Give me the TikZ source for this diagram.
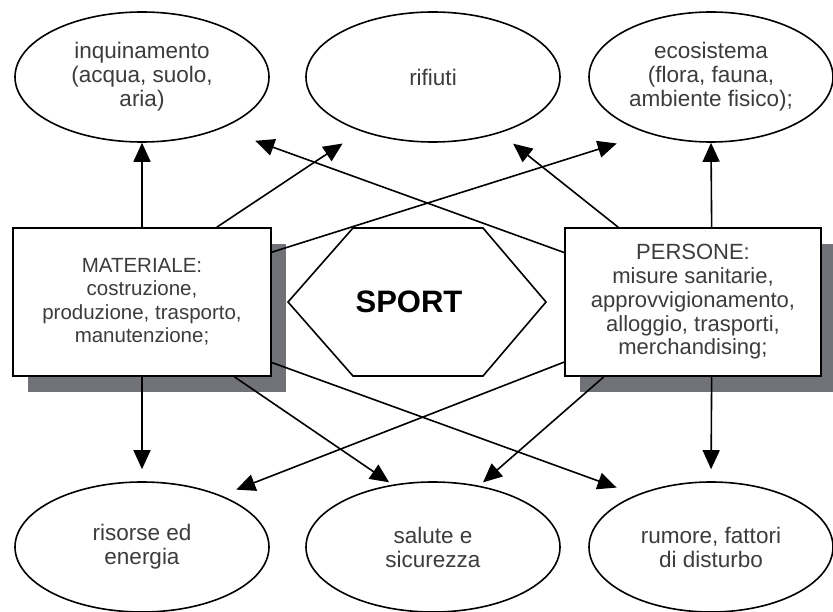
\documentclass[tikz,border=0pt]{standalone}
\usepackage{fontspec}
\setmainfont{Liberation Sans}
\usetikzlibrary{arrows.meta,calc,shadows,shapes.geometric}
\definecolor{shadegray}{RGB}{112,114,120}
\definecolor{txtgray}{RGB}{60,60,60}

\begin{document}
\begin{tikzpicture}[x=1pt,y=-1pt,line width=1.6pt,
  oval/.style={ellipse,draw,inner sep=0pt,minimum height=130pt,align=center,
    text=txtgray,font=\fontsize{22.5}{24}\selectfont},
  box/.style={rectangle,draw,fill=white,inner sep=0pt,minimum height=148pt,align=center,
    text=txtgray,drop shadow={shadow xshift=15pt,shadow yshift=-16pt,fill=shadegray,opacity=1}},
  arr/.style={-{Triangle[length=19pt,width=17pt]}}]
  \fill[white] (0,0) rectangle (833,612);
  \useasboundingbox (0,0) rectangle (833,612);
  \foreach \n/\x/\y/\w/\t in {inq/142/77/254/{inquinamento\\(acqua, suolo,\\aria)},
      rif/433/77/254/{rifiuti}, eco/711/77/244/{ecosistema\\(flora, fauna,\\ambiente fisico);},
      ris/142/547/254/{risorse ed\\energia}, sal/433/547/254/{salute e\\sicurezza},
      rum/711/547/244/{rumore, fattori\\di disturbo}}
    \node[oval,minimum width=\w pt] (\n) at (\x,\y) {\t};
  \node[box,minimum width=258pt,font=\fontsize{20.5}{23.5}\selectfont] (mat) at (142,302)
    {MATERIALE:\\costruzione,\\produzione, trasporto,\\manutenzione;};
  \node[box,minimum width=256pt,font=\fontsize{22}{23.7}\selectfont] (per) at (693,302)
    {PERSONE:\\misure sanitarie,\\approvvigionamento,\\alloggio, trasporti,\\merchandising;};
  \node[font=\bfseries\fontsize{31}{36}\selectfont] (sport) at (409,302) {SPORT};
  \draw ($(sport)+(-121,0)$) -- ++(65,-74) -- ++(130,0) -- ++(63,74) -- ++(-63,74) -- ++(-130,0) -- cycle;
  \foreach \a/\b/\s in {mat.north/inq.south/0, mat.45/rif.217/22, mat.21/eco.222/33,
      per.159/inq.327/36, per.135/rif.320/17, per.76/eco.south/0,
      mat.south/ris.north/12, per.205/ris.33/16, mat.321/sal.123/4,
      mat.335/rum.145/21, per.220/sal.53/5, per.284/rum.north/12}
    \draw[arr,shorten >=\s pt] (\a) -- (\b);
\end{tikzpicture}
\end{document}
